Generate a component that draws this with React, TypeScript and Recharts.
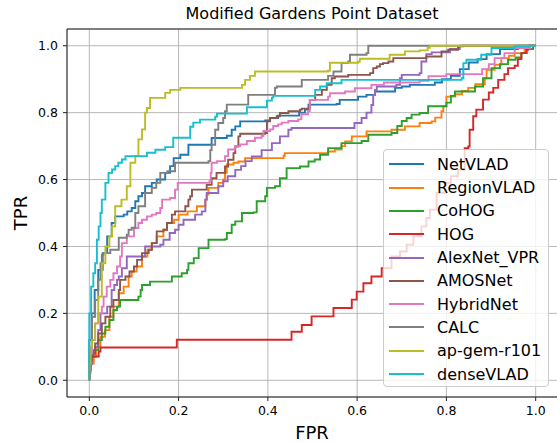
import React from "react";
import { LineChart, Line, XAxis, YAxis, CartesianGrid, ReferenceLine } from "recharts";

type Pt = [number, number];

const seriesNames = ["NetVLAD", "RegionVLAD", "CoHOG", "HOG", "AlexNet_VPR", "AMOSNet", "HybridNet", "CALC", "ap-gem-r101", "denseVLAD"];
const seriesColors = ["#1f77b4", "#ff7f0e", "#2ca02c", "#d62728", "#9467bd", "#8c564b", "#e377c2", "#7f7f7f", "#bcbd22", "#17becf"];
const axisTicks = [0, 0.2, 0.4, 0.6, 0.8, 1.0];
const chartTitle = "Modified Gardens Point Dataset";
const xLabel = "FPR";
const yLabel = "TPR";

// ROC points: [fpr where TPR jumps, new TPR]
const netVLAD: Pt[] = [[0,0],[0,0.12],[0.005,0.2],[0.012,0.27],[0.02,0.33],[0.03,0.38],[0.04,0.43],[0.05,0.47],[0.058,0.49],[0.077,0.495],[0.085,0.505],[0.095,0.515],[0.103,0.535],[0.11,0.55],[0.118,0.56],[0.125,0.58],[0.14,0.59],[0.151,0.6],[0.17,0.62],[0.181,0.64],[0.189,0.664],[0.204,0.674],[0.222,0.704],[0.274,0.724],[0.308,0.731],[0.319,0.749],[0.327,0.759],[0.338,0.774],[0.394,0.777],[0.405,0.784],[0.423,0.791],[0.47,0.8],[0.483,0.809],[0.491,0.824],[0.554,0.826],[0.561,0.838],[0.602,0.848],[0.621,0.853],[0.64,0.863],[0.685,0.874],[0.7,0.878],[0.718,0.883],[0.774,0.89],[0.79,0.9],[0.81,0.91],[0.83,0.93],[0.85,0.95],[0.87,0.96],[0.89,0.975],[0.92,0.99],[0.96,1],[1,1]];
const regionVLAD: Pt[] = [[0,0],[0,0.03],[0.004,0.05],[0.01,0.07],[0.015,0.1],[0.025,0.13],[0.035,0.15],[0.045,0.19],[0.054,0.22],[0.066,0.26],[0.077,0.28],[0.088,0.31],[0.095,0.325],[0.106,0.34],[0.118,0.37],[0.13,0.39],[0.14,0.41],[0.151,0.43],[0.166,0.45],[0.174,0.47],[0.19,0.48],[0.2,0.495],[0.22,0.505],[0.241,0.52],[0.26,0.54],[0.263,0.555],[0.267,0.575],[0.289,0.59],[0.3,0.6],[0.304,0.62],[0.308,0.645],[0.323,0.65],[0.334,0.654],[0.349,0.664],[0.435,0.671],[0.438,0.679],[0.535,0.684],[0.55,0.69],[0.565,0.7],[0.573,0.714],[0.588,0.729],[0.621,0.744],[0.677,0.749],[0.707,0.759],[0.74,0.769],[0.767,0.774],[0.775,0.785],[0.789,0.804],[0.793,0.819],[0.8,0.848],[0.82,0.855],[0.835,0.865],[0.849,0.874],[0.865,0.885],[0.886,0.903],[0.89,0.928],[0.908,0.943],[0.923,0.963],[0.94,0.97],[0.953,0.978],[0.975,0.99],[0.994,1],[1,1]];
const coHOG: Pt[] = [[0,0],[0,0.03],[0.002,0.07],[0.01,0.09],[0.02,0.12],[0.028,0.14],[0.036,0.16],[0.045,0.18],[0.054,0.21],[0.062,0.22],[0.069,0.24],[0.11,0.25],[0.115,0.27],[0.118,0.285],[0.136,0.295],[0.185,0.31],[0.207,0.32],[0.219,0.33],[0.222,0.35],[0.234,0.365],[0.245,0.395],[0.267,0.42],[0.304,0.422],[0.308,0.44],[0.319,0.465],[0.327,0.475],[0.342,0.5],[0.368,0.502],[0.375,0.535],[0.394,0.55],[0.398,0.575],[0.416,0.58],[0.427,0.604],[0.442,0.634],[0.472,0.639],[0.491,0.654],[0.505,0.66],[0.517,0.674],[0.535,0.694],[0.565,0.709],[0.61,0.715],[0.625,0.734],[0.677,0.739],[0.69,0.76],[0.7,0.775],[0.711,0.784],[0.722,0.794],[0.74,0.799],[0.759,0.819],[0.8,0.83],[0.81,0.85],[0.819,0.863],[0.864,0.878],[0.882,0.903],[0.901,0.933],[0.92,0.945],[0.938,0.958],[0.955,0.965],[0.968,0.978],[0.98,0.99],[0.994,1],[1,1]];
const hog: Pt[] = [[0,0],[0,0.03],[0.002,0.05],[0.006,0.071],[0.021,0.086],[0.025,0.098],[0.196,0.121],[0.453,0.145],[0.476,0.165],[0.498,0.191],[0.547,0.216],[0.588,0.241],[0.599,0.265],[0.614,0.29],[0.632,0.31],[0.655,0.335],[0.677,0.37],[0.696,0.385],[0.711,0.405],[0.726,0.43],[0.744,0.46],[0.755,0.485],[0.763,0.51],[0.778,0.56],[0.796,0.59],[0.81,0.61],[0.826,0.629],[0.841,0.694],[0.849,0.699],[0.852,0.749],[0.86,0.789],[0.867,0.809],[0.882,0.839],[0.895,0.86],[0.905,0.874],[0.916,0.898],[0.93,0.915],[0.938,0.933],[0.953,0.94],[0.96,0.96],[0.968,0.978],[0.979,0.988],[0.983,1],[1,1]];
const alexNetVPR: Pt[] = [[0,0],[0,0.02],[0.002,0.05],[0.006,0.08],[0.013,0.1],[0.02,0.15],[0.025,0.2],[0.04,0.22],[0.05,0.27],[0.056,0.285],[0.062,0.3],[0.066,0.31],[0.073,0.335],[0.084,0.37],[0.121,0.37],[0.125,0.4],[0.159,0.405],[0.166,0.42],[0.18,0.44],[0.192,0.45],[0.2,0.465],[0.211,0.48],[0.237,0.495],[0.252,0.505],[0.26,0.54],[0.263,0.56],[0.289,0.58],[0.3,0.595],[0.31,0.61],[0.327,0.629],[0.34,0.64],[0.35,0.655],[0.364,0.669],[0.386,0.688],[0.409,0.709],[0.427,0.729],[0.446,0.749],[0.453,0.754],[0.59,0.754],[0.594,0.769],[0.61,0.784],[0.621,0.8],[0.632,0.823],[0.636,0.853],[0.64,0.868],[0.644,0.878],[0.688,0.883],[0.696,0.903],[0.7,0.913],[0.74,0.918],[0.744,0.953],[0.755,0.975],[0.767,0.98],[0.808,0.99],[0.83,1],[1,1]];
const amosNet: Pt[] = [[0,0],[0,0.02],[0.002,0.06],[0.006,0.08],[0.013,0.11],[0.02,0.14],[0.028,0.17],[0.036,0.19],[0.047,0.22],[0.054,0.24],[0.066,0.27],[0.069,0.3],[0.081,0.31],[0.09,0.325],[0.1,0.34],[0.107,0.36],[0.118,0.38],[0.133,0.39],[0.14,0.41],[0.151,0.445],[0.166,0.45],[0.174,0.47],[0.185,0.495],[0.192,0.505],[0.215,0.52],[0.222,0.54],[0.226,0.55],[0.23,0.57],[0.263,0.584],[0.274,0.604],[0.285,0.62],[0.304,0.639],[0.311,0.659],[0.323,0.679],[0.327,0.699],[0.334,0.729],[0.338,0.737],[0.394,0.739],[0.398,0.774],[0.405,0.784],[0.42,0.789],[0.427,0.799],[0.446,0.804],[0.472,0.809],[0.476,0.812],[0.494,0.838],[0.506,0.853],[0.521,0.868],[0.532,0.883],[0.543,0.903],[0.55,0.908],[0.58,0.913],[0.629,0.918],[0.636,0.933],[0.644,0.938],[0.651,0.945],[0.658,0.948],[0.67,0.953],[0.681,0.963],[0.755,0.968],[0.789,0.983],[0.804,0.988],[0.826,0.998],[0.837,1],[1,1]];
const hybridNet: Pt[] = [[0,0],[0,0.03],[0.002,0.08],[0.006,0.12],[0.013,0.17],[0.02,0.2],[0.028,0.22],[0.032,0.25],[0.039,0.28],[0.047,0.3],[0.054,0.32],[0.062,0.34],[0.069,0.37],[0.073,0.41],[0.084,0.43],[0.1,0.455],[0.11,0.47],[0.118,0.48],[0.129,0.49],[0.14,0.495],[0.15,0.5],[0.159,0.515],[0.163,0.54],[0.181,0.545],[0.192,0.57],[0.198,0.59],[0.269,0.595],[0.272,0.62],[0.274,0.65],[0.286,0.655],[0.304,0.67],[0.311,0.69],[0.326,0.7],[0.338,0.705],[0.353,0.715],[0.371,0.725],[0.386,0.73],[0.39,0.745],[0.405,0.75],[0.412,0.76],[0.423,0.765],[0.431,0.77],[0.446,0.775],[0.468,0.78],[0.475,0.795],[0.49,0.805],[0.494,0.838],[0.535,0.848],[0.539,0.858],[0.573,0.863],[0.595,0.873],[0.632,0.883],[0.66,0.89],[0.74,0.895],[0.76,0.909],[0.8,0.915],[0.88,0.93],[0.895,0.945],[0.908,0.963],[0.93,0.978],[0.953,0.993],[0.987,1],[1,1]];
const calc: Pt[] = [[0,0],[0,0.05],[0.002,0.1],[0.006,0.19],[0.013,0.24],[0.02,0.3],[0.025,0.35],[0.028,0.375],[0.032,0.38],[0.047,0.39],[0.066,0.426],[0.084,0.435],[0.088,0.45],[0.095,0.456],[0.103,0.5],[0.11,0.52],[0.125,0.56],[0.14,0.575],[0.15,0.59],[0.159,0.62],[0.175,0.625],[0.192,0.65],[0.267,0.655],[0.271,0.688],[0.274,0.704],[0.282,0.749],[0.289,0.769],[0.3,0.784],[0.304,0.804],[0.308,0.824],[0.356,0.853],[0.416,0.874],[0.42,0.878],[0.476,0.898],[0.535,0.91],[0.547,0.923],[0.565,0.948],[0.58,0.953],[0.584,0.973],[0.621,0.978],[0.625,1],[1,1]];
const apGemR101: Pt[] = [[0,0],[0,0.05],[0.003,0.1],[0.006,0.12],[0.013,0.17],[0.02,0.25],[0.028,0.35],[0.036,0.4],[0.045,0.43],[0.051,0.46],[0.058,0.52],[0.072,0.54],[0.084,0.58],[0.092,0.65],[0.103,0.67],[0.11,0.72],[0.118,0.75],[0.125,0.8],[0.129,0.814],[0.136,0.844],[0.17,0.859],[0.181,0.868],[0.204,0.874],[0.342,0.883],[0.349,0.898],[0.36,0.91],[0.371,0.923],[0.535,0.925],[0.539,0.949],[0.602,0.952],[0.606,0.961],[0.673,0.973],[0.707,0.983],[0.74,0.986],[0.758,0.994],[0.763,1],[1,1]];
const denseVLAD: Pt[] = [[0,0],[0,0.2],[0.004,0.28],[0.009,0.32],[0.013,0.35],[0.017,0.42],[0.021,0.46],[0.025,0.5],[0.028,0.54],[0.036,0.59],[0.043,0.62],[0.051,0.63],[0.058,0.64],[0.065,0.65],[0.073,0.66],[0.081,0.67],[0.129,0.68],[0.148,0.689],[0.17,0.697],[0.188,0.725],[0.226,0.758],[0.233,0.77],[0.248,0.779],[0.282,0.788],[0.286,0.797],[0.353,0.816],[0.398,0.836],[0.409,0.845],[0.412,0.85],[0.506,0.868],[0.517,0.878],[0.532,0.888],[0.565,0.898],[0.834,0.903],[0.838,0.948],[0.845,0.958],[0.878,0.973],[0.901,0.993],[0.953,0.998],[0.987,1],[1,1]];

const seriesPoints: Pt[][] = [netVLAD, regionVLAD, coHOG, hog, alexNetVPR, amosNet, hybridNet, calc, apGemR101, denseVLAD];

const FONT = "'DejaVu Sans', Verdana, sans-serif";

export default function App() {
  const tickStyle = { fontSize: 12.5, fill: "#000", fontFamily: FONT };
  return (
    <div style={{ position: "absolute", left: 0, top: 0, width: 557, height: 443, background: "#fff", fontFamily: FONT, overflow: "hidden" }}>
      <LineChart width={557} height={443} margin={{ top: 29, right: -1, bottom: 0, left: 0 }}>
        <CartesianGrid stroke="#b0b0b0" strokeWidth={0.9} />
        <XAxis
          type="number"
          dataKey="x"
          domain={[-0.05, 1.05]}
          ticks={axisTicks}
          tickFormatter={(v: number) => v.toFixed(1)}
          height={46}
          allowDataOverflow
          tick={tickStyle}
          tickSize={4}
          tickMargin={5}
          stroke="#222"
        />
        <YAxis
          type="number"
          domain={[-0.05, 1.05]}
          ticks={axisTicks}
          tickFormatter={(v: number) => v.toFixed(1)}
          width={67}
          allowDataOverflow
          tick={tickStyle}
          tickSize={4}
          tickMargin={5}
          stroke="#222"
        />
        <ReferenceLine y={1.05} stroke="#222" strokeWidth={1} />
        <ReferenceLine x={1.05} stroke="#222" strokeWidth={1} />
        {seriesPoints.map((pts, i) => (
          <Line
            key={seriesNames[i]}
            data={pts.map(([x, y]) => ({ x, y }))}
            dataKey="y"
            type="stepAfter"
            stroke={seriesColors[i]}
            strokeWidth={1.9}
            dot={false}
            activeDot={false}
            isAnimationActive={false}
          />
        ))}
      </LineChart>
      <svg width={557} height={443} style={{ position: "absolute", left: 0, top: 0, pointerEvents: "none" }}>
        <text x={312} y={19} textAnchor="middle" fontSize={16} fontFamily={FONT} fill="#000">{chartTitle}</text>
        <text x={312} y={439} textAnchor="middle" fontSize={18} fontFamily={FONT} fill="#000">{xLabel}</text>
        <text x={27} y={213} textAnchor="middle" fontSize={18} fontFamily={FONT} fill="#000" transform="rotate(-90 27 213)">{yLabel}</text>
      </svg>
      <div
        style={{
          position: "absolute",
          left: 383,
          top: 149,
          width: 166,
          height: 238,
          background: "rgba(255,255,255,0.8)",
          border: "1px solid #cccccc",
          borderRadius: 4,
          boxSizing: "border-box",
        }}
      >
        {seriesNames.map((name, i) => (
          <div key={name} style={{ position: "absolute", left: 0, top: 14.3 + i * 23.3 - 11.5, height: 23, width: 166, display: "flex", alignItems: "center" }}>
            <div style={{ position: "absolute", left: 4.5, top: 10.5, width: 35, height: 2, background: seriesColors[i] }} />
            <span style={{ position: "absolute", left: 53, top: 1, fontSize: 16, lineHeight: "21px", color: "#000", fontFamily: FONT, whiteSpace: "nowrap" }}>{name}</span>
          </div>
        ))}
      </div>
    </div>
  );
}
